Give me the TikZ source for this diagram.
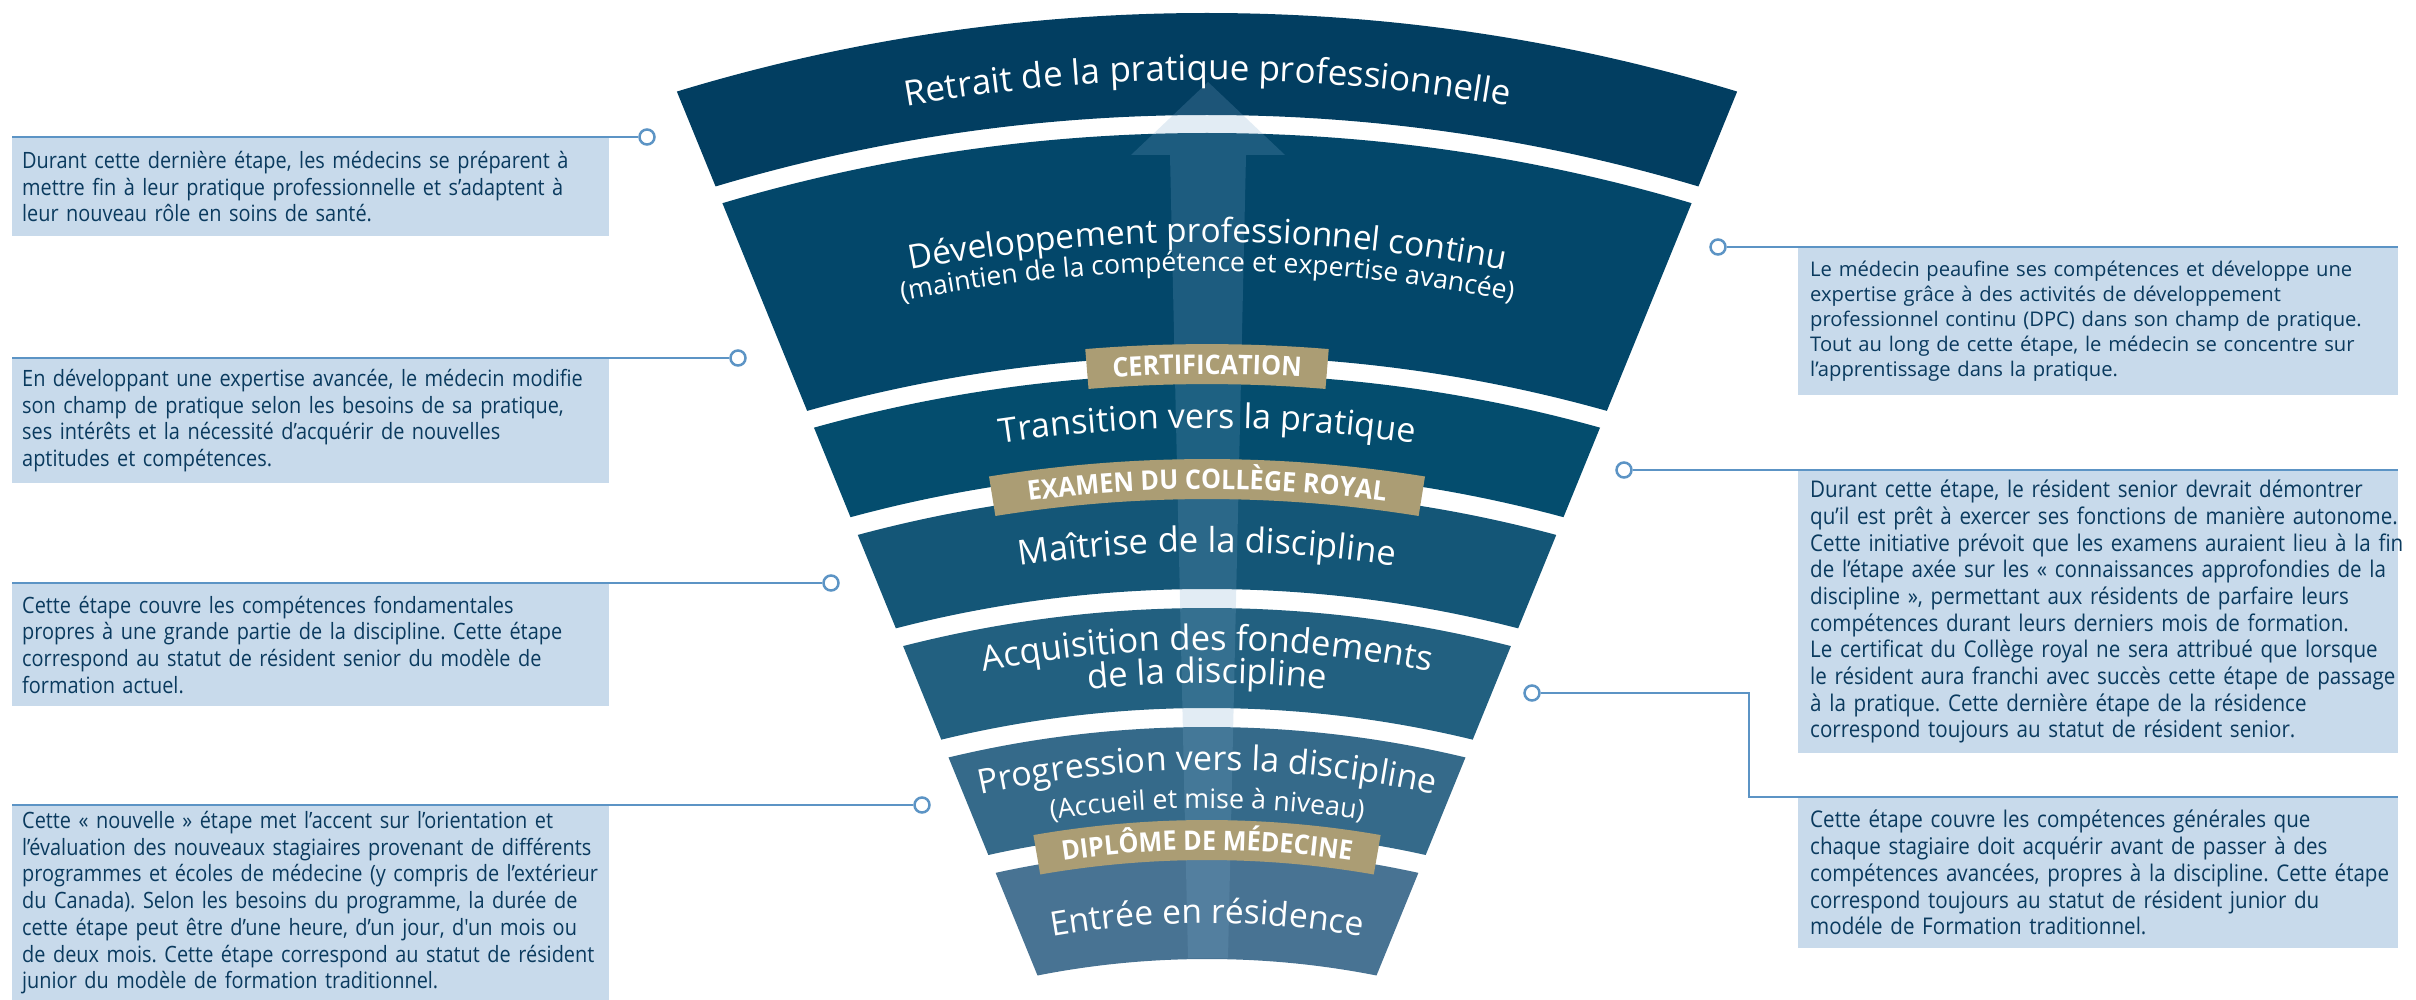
\documentclass[tikz,border=0pt]{standalone}
\usepackage{fontspec}
\setmainfont{Open Sans}
\newfontfamily\lblfont{Open Sans}
\newfontfamily\condfont[FakeStretch=0.885]{Open Sans}
\newfontfamily\condfontR[FakeStretch=0.895]{Open Sans}
\newfontfamily\banfont[FakeStretch=0.93]{Open Sans}
\usetikzlibrary{decorations.text,calc}
\definecolor{bandA}{HTML}{023E61}
\definecolor{bandB}{HTML}{03476A}
\definecolor{bandC}{HTML}{044D6E}
\definecolor{bandD}{HTML}{145677}
\definecolor{bandE}{HTML}{226080}
\definecolor{bandF}{HTML}{356A8A}
\definecolor{bandG}{HTML}{487393}
\definecolor{gold}{HTML}{AB9D74}
\definecolor{boxfill}{HTML}{C8DAEB}
\definecolor{boxtext}{HTML}{0A3A5E}
\definecolor{connc}{HTML}{5C94C5}
\definecolor{arrowc}{HTML}{7DAACB}
\newcommand\arclabel[3]{%
  \path[decorate,decoration={text along path,text align=center,
    text={|\lblfont\fontsize{#2}{#2}\selectfont\color{white}|#3}}]
    (C) ++(-112:#1) arc[start angle=-112,end angle=-68,radius=#1];}
\newcommand\goldbanner[3]{%
  \fill[gold] (C) ++({-90-#3}:#2) arc[start angle={-90-#3},end angle={-90+#3},radius=#2]
    -- ($(C)+({-90+#3}:#1)$) arc[start angle={-90+#3},end angle={-90-#3},radius=#1] -- cycle;}
\newcommand\bantext[2]{%
  \path[decorate,decoration={text along path,text align=center,
    text={|\banfont\bfseries\fontsize{27}{27}\selectfont\color{white}|#2}}]
    (C) ++(-105:#1) arc[start angle=-105,end angle=-75,radius=#1];}
\begin{document}
\frenchspacing
\begin{tikzpicture}[x=1pt,y=-1pt,
  box/.style={fill=boxfill,text=boxtext,align=left,inner xsep=10pt,inner ysep=0pt,
    anchor=north west,font=\condfont\fontsize{22.5}{26.7}\selectfont},
  rbox/.style={box,inner xsep=12pt,font=\condfontR\fontsize{23}{26.7}\selectfont},
  dot/.style={circle,draw=connc,line width=2.5pt,fill=white,minimum size=15pt,inner sep=0pt},
  conn/.style={draw=connc,line width=2.5pt}]
\useasboundingbox (0,0) rectangle (2416,1000);
\coordinate (C) at (1207,1830);
% funnel bands
\begin{scope}
  \clip (639.5,0) -- (1774.5,0) -- (1366.5,1000) -- (1047.5,1000) -- cycle;
  \fill[bandA,even odd rule] (C) circle[radius=1817] (C) circle[radius=1715];
  \fill[bandB,even odd rule] (C) circle[radius=1697] (C) circle[radius=1474];
  \fill[bandC,even odd rule] (C) circle[radius=1456] (C) circle[radius=1360];
  \fill[bandD,even odd rule] (C) circle[radius=1341] (C) circle[radius=1241];
  \fill[bandE,even odd rule] (C) circle[radius=1222] (C) circle[radius=1122];
  \fill[bandF,even odd rule] (C) circle[radius=1103] (C) circle[radius=999];
  \fill[bandG,even odd rule] (C) circle[radius=980] (C) circle[radius=871];
\end{scope}
% arrow
\fill[arrowc,opacity=0.22] (1208,82) -- (1285,155) -- (1246,155) -- (1228,958)
  -- (1188,958) -- (1170,155) -- (1131,155) -- cycle;
% gold banners
\goldbanner{1446}{1486}{4.7}
\goldbanner{1331}{1371}{9.15}
\goldbanner{970}{1010}{9.9}
% labels
\arclabel{1750}{35}{Retrait de la pratique professionnelle}
\arclabel{1588}{33.4}{Développement professionnel continu}
\arclabel{1559}{26.6}{(maintien de la compétence et expertise avancée)}
\arclabel{1402}{34}{Transition vers la pratique}
\arclabel{1278}{34.5}{Maîtrise de la discipline}
\arclabel{1180}{34.6}{Acquisition des fondements}
\arclabel{1147}{34.6}{de la discipline}
\arclabel{1060}{34}{Progression vers la discipline}
\arclabel{1022}{26.8}{(Accueil et mise à niveau)}
\arclabel{907}{33.6}{Entrée en résidence}
\bantext{1456}{CERTIFICATION}
\bantext{1341}{EXAMEN DU COLLÈGE ROYAL}
\bantext{980}{DIPLÔME DE MÉDECINE}
% boxes
\node[box,text width=577pt,minimum height=99pt] (bA) at (12,137)
  {\mbox{Durant cette dernière étape, les médecins se préparent à}\\
   \mbox{mettre fin à leur pratique professionnelle et s’adaptent à}\\
   \mbox{leur nouveau rôle en soins de santé.}};
\node[box,text width=577pt,minimum height=125pt] (bB) at (12,358)
  {\mbox{En développant une expertise avancée, le médecin modifie}\\
   \mbox{son champ de pratique selon les besoins de sa pratique,}\\
   \mbox{ses intérêts et la nécessité d’acquérir de nouvelles}\\
   \mbox{aptitudes et compétences.}};
\node[box,text width=577pt,minimum height=123pt] (bC) at (12,583)
  {\mbox{Cette étape couvre les compétences fondamentales}\\
   \mbox{propres à une grande partie de la discipline. Cette étape}\\
   \mbox{correspond au statut de résident senior du modèle de}\\
   \mbox{formation actuel.}};
\node[box,text width=577pt,minimum height=195pt] (bD) at (12,805)
  {\mbox{Cette « nouvelle » étape met l’accent sur l’orientation et}\\
   \mbox{l’évaluation des nouveaux stagiaires provenant de différents}\\
   \mbox{programmes et écoles de médecine (y compris de l’extérieur}\\
   \mbox{du Canada). Selon les besoins du programme, la durée de}\\
   \mbox{cette étape peut être d’une heure, d’un jour, d'un mois ou}\\
   \mbox{de deux mois. Cette étape correspond au statut de résident}\\
   \mbox{junior du modèle de formation traditionnel.}};
\node[rbox,text width=576pt,minimum height=148pt,font=\lblfont\fontsize{20.2}{25}\selectfont] (bE) at (1798,247)
  {\mbox{Le médecin peaufine ses compétences et développe une}\\
   \mbox{expertise grâce à des activités de développement}\\
   \mbox{professionnel continu (DPC) dans son champ de pratique.}\\
   \mbox{Tout au long de cette étape, le médecin se concentre sur}\\
   \mbox{l’apprentissage dans la pratique.}};
\node[rbox,text width=576pt,minimum height=283pt] (bF) at (1798,470)
  {\mbox{Durant cette étape, le résident senior devrait démontrer}\\
   \mbox{qu’il est prêt à exercer ses fonctions de manière autonome.}\\
   \mbox{Cette initiative prévoit que les examens auraient lieu à la fin}\\
   \mbox{de l’étape axée sur les « connaissances approfondies de la}\\
   \mbox{discipline », permettant aux résidents de parfaire leurs}\\
   \mbox{compétences durant leurs derniers mois de formation.}\\
   \mbox{Le certificat du Collège royal ne sera attribué que lorsque}\\
   \mbox{le résident aura franchi avec succès cette étape de passage}\\
   \mbox{à la pratique. Cette dernière étape de la résidence}\\
   \mbox{correspond toujours au statut de résident senior.}};
\node[rbox,text width=576pt,minimum height=151pt] (bG) at (1798,797)
  {\mbox{Cette étape couvre les compétences générales que}\\
   \mbox{chaque stagiaire doit acquérir avant de passer à des}\\
   \mbox{compétences avancées, propres à la discipline. Cette étape}\\
   \mbox{correspond toujours au statut de résident junior du}\\
   \mbox{modéle de Formation traditionnel.}};
% connector dots
\node[dot] (cA) at (647,137) {};
\node[dot] (cB) at (738,358) {};
\node[dot] (cC) at (831,583) {};
\node[dot] (cD) at (922,805) {};
\node[dot] (cE) at (1718,247) {};
\node[dot] (cF) at (1624,470) {};
\node[dot] (cG) at (1532,693) {};
\coordinate (kG) at (1749,693);
% connectors
\draw[conn] (cA.west) -- (bA.north west);
\draw[conn] (cB.west) -- (bB.north west);
\draw[conn] (cC.west) -- (bC.north west);
\draw[conn] (cD.west) -- (bD.north west);
\draw[conn] (cE.east) -- (bE.north east);
\draw[conn] (cF.east) -- (bF.north east);
\draw[conn] (cG.east) -- (kG) |- (bG.north east);
\end{tikzpicture}
\end{document}
